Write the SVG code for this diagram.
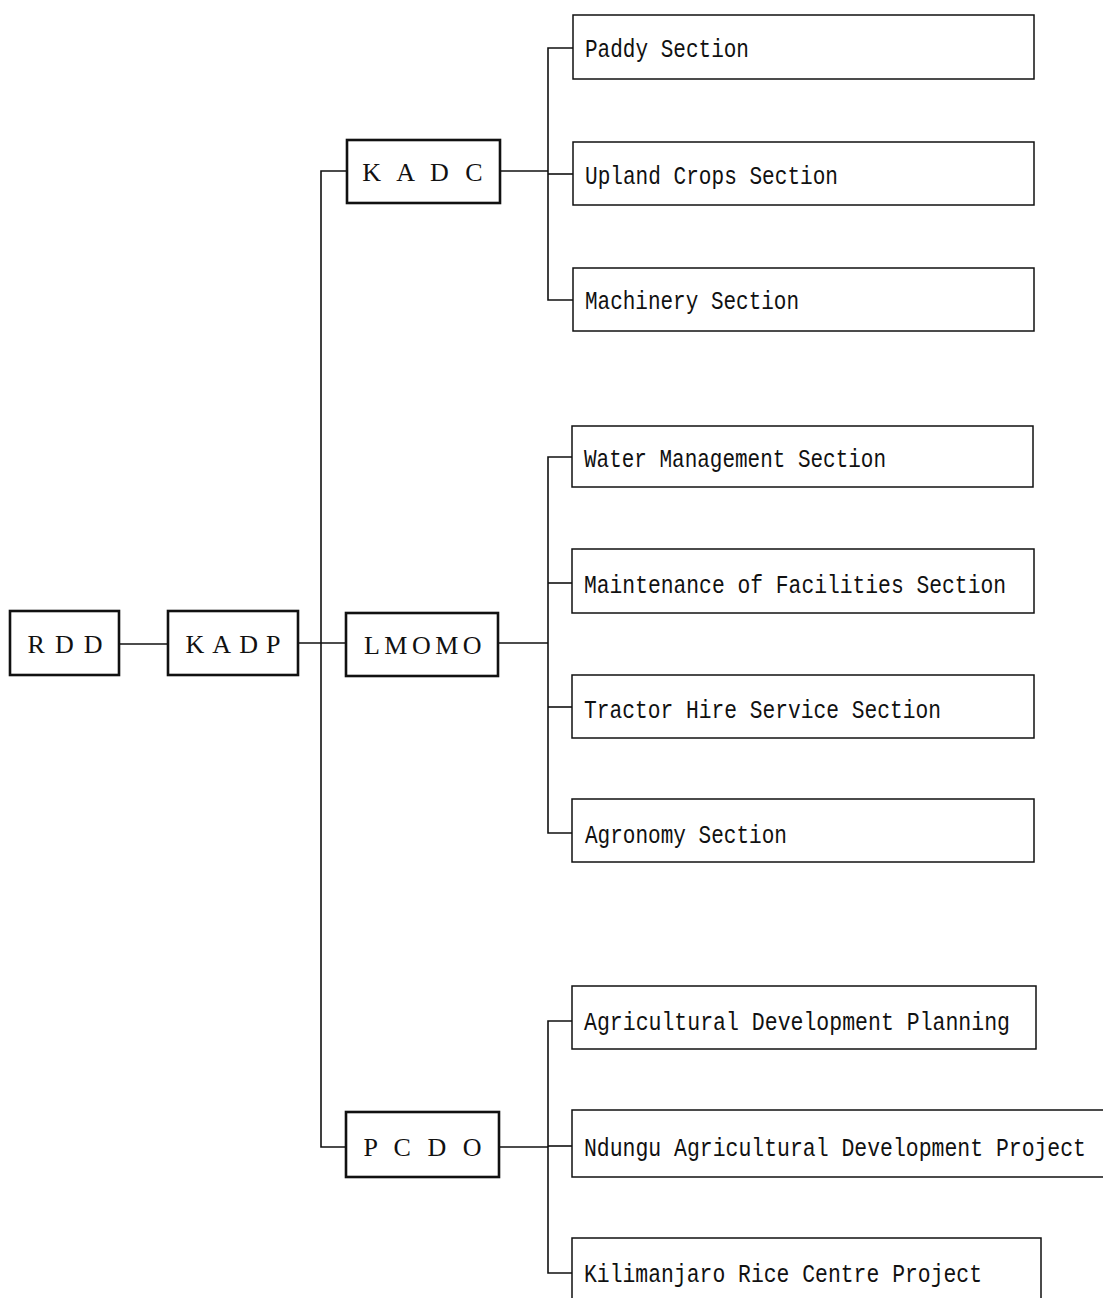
<svg xmlns="http://www.w3.org/2000/svg" width="1103" height="1298" viewBox="0 0 1103 1298">
<style>
.bg{fill:#ffffff}
.main rect{fill:#fff;stroke:#111;stroke-width:2.6}
.sec rect,.sec path{fill:#fff;stroke:#111;stroke-width:1.5}
.main text{font-family:"Liberation Serif","Times New Roman",serif;font-size:26px;fill:#111;text-anchor:middle}
.sec text{font-family:"Liberation Mono","DejaVu Sans Mono",monospace;font-size:25px;fill:#111}
#connectors path{fill:none;stroke:#111;stroke-width:1.6}
</style>
<rect class="bg" x="0" y="0" width="1103" height="1298"/>
<g id="connectors">
<path d="M119,644 H168"/>
<path d="M298,643 H346"/>
<path d="M347,171 H321 V1147 H346"/>
<path d="M500,171 H548"/>
<path d="M573,48 H548 V300 H573"/>
<path d="M548,174 H573"/>
<path d="M498,643 H548"/>
<path d="M572,457 H548 V833 H572"/>
<path d="M548,583 H572"/>
<path d="M548,707 H572"/>
<path d="M499,1147 H548"/>
<path d="M572,1021 H548 V1273 H572"/>
<path d="M548,1146 H572"/>
</g>
<g id="rdd" class="main"><rect x="10" y="611" width="109" height="64"/><text x="70" y="653" letter-spacing="10">RDD</text></g>
<g id="kadp" class="main"><rect x="168" y="611" width="130" height="64"/><text x="237" y="653" letter-spacing="8">KADP</text></g>
<g id="lmomo" class="main"><rect x="346" y="613" width="152" height="63"/><text x="425" y="654" letter-spacing="4.5">LMOMO</text></g>
<g id="kadc" class="main"><rect x="347" y="140" width="153" height="63"/><text x="425" y="181" letter-spacing="5">K A D C</text></g>
<g id="pcdo" class="main"><rect x="346" y="1112" width="153" height="65"/><text x="425" y="1156" letter-spacing="5">P C D O</text></g>
<g id="paddy" class="sec"><rect x="573" y="15" width="461" height="64"/><text x="585" y="57" textLength="164" lengthAdjust="spacingAndGlyphs">Paddy Section</text></g>
<g id="upland" class="sec"><rect x="573" y="142" width="461" height="63"/><text x="585" y="184" textLength="253" lengthAdjust="spacingAndGlyphs">Upland Crops Section</text></g>
<g id="machinery" class="sec"><rect x="573" y="268" width="461" height="63"/><text x="585" y="309" textLength="214" lengthAdjust="spacingAndGlyphs">Machinery Section</text></g>
<g id="water" class="sec"><rect x="572" y="426" width="461" height="61"/><text x="584" y="467" textLength="302" lengthAdjust="spacingAndGlyphs">Water Management Section</text></g>
<g id="maintenance" class="sec"><rect x="572" y="549" width="462" height="64"/><text x="584" y="593" textLength="422" lengthAdjust="spacingAndGlyphs">Maintenance of Facilities Section</text></g>
<g id="tractor" class="sec"><rect x="572" y="675" width="462" height="63"/><text x="584" y="718" textLength="357" lengthAdjust="spacingAndGlyphs">Tractor Hire Service Section</text></g>
<g id="agronomy" class="sec"><rect x="572" y="799" width="462" height="63"/><text x="585" y="843" textLength="202" lengthAdjust="spacingAndGlyphs">Agronomy Section</text></g>
<g id="agdev" class="sec"><rect x="572" y="986" width="464" height="63"/><text x="584" y="1030" textLength="426" lengthAdjust="spacingAndGlyphs">Agricultural Development Planning</text></g>
<g id="ndungu" class="sec"><path d="M1103,1110 H572 V1177 H1103"/><text x="584" y="1156" textLength="502" lengthAdjust="spacingAndGlyphs">Ndungu Agricultural Development Project</text></g>
<g id="kilimanjaro" class="sec"><path d="M572,1298 V1238 H1041 V1298"/><text x="584" y="1282" textLength="398" lengthAdjust="spacingAndGlyphs">Kilimanjaro Rice Centre Project</text></g>
</svg>
